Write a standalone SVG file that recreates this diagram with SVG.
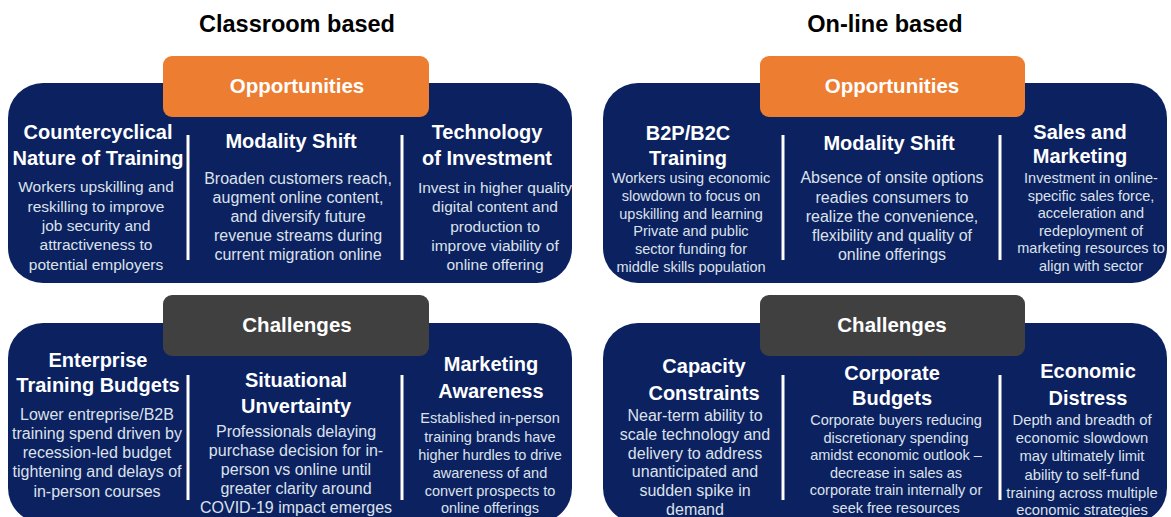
<svg xmlns="http://www.w3.org/2000/svg" width="1171" height="517" viewBox="0 0 1171 517">
<style>
.panel{fill:#0B2160}
.opp{fill:#ED7D31}
.chal{fill:#404040}
.div{stroke:#FFFFFF;stroke-width:3}
text{font-family:"Liberation Sans",Arial,sans-serif;text-anchor:middle}
.title{font-size:23.5px;font-weight:bold;fill:#000000}
.lbl{font-size:20.5px;font-weight:bold;fill:#FFFFFF}
.hd{font-size:20px;font-weight:bold;fill:#FFFFFF}
.b{fill:#DDE1EB}
.b16{font-size:16px}
.b155{font-size:15.5px}
.b145{font-size:14.5px}
.b148{font-size:14.8px}
</style>
<rect width="1171" height="517" fill="#FFFFFF"/>
<text class="title" x="297" y="32">Classroom based</text>
<text class="title" x="885" y="32">On-line based</text>

<g id="classroom-opportunities">
<rect class="panel" x="8" y="83" width="564" height="200" rx="35"/>
<rect class="opp" x="163" y="56" width="266" height="61" rx="9"/>
<text class="lbl" x="297" y="93">Opportunities</text>
</g>
<g id="classroom-challenges">
<rect class="panel" x="8" y="323" width="564" height="200" rx="35"/>
<rect class="chal" x="163" y="295" width="266" height="61" rx="9"/>
<text class="lbl" x="297" y="332">Challenges</text>
</g>
<g id="online-opportunities">
<rect class="panel" x="603" y="83" width="564" height="200" rx="35"/>
<rect class="opp" x="760" y="56" width="265" height="61" rx="9"/>
<text class="lbl" x="892" y="93">Opportunities</text>
</g>
<g id="online-challenges">
<rect class="panel" x="603" y="323" width="564" height="200" rx="35"/>
<rect class="chal" x="760" y="295" width="265" height="61" rx="9"/>
<text class="lbl" x="892" y="332">Challenges</text>
</g>

<g id="connectors">
<line class="div" x1="188" y1="135" x2="188" y2="260"/>
<line class="div" x1="402" y1="135" x2="402" y2="260"/>
<line class="div" x1="783" y1="135" x2="783" y2="260"/>
<line class="div" x1="1000" y1="135" x2="1000" y2="260"/>
<line class="div" x1="188" y1="375" x2="188" y2="500"/>
<line class="div" x1="402" y1="375" x2="402" y2="500"/>
<line class="div" x1="783" y1="375" x2="783" y2="500"/>
<line class="div" x1="1000" y1="375" x2="1000" y2="500"/>
</g>

<g id="countercyclical">
<text class="hd"><tspan x="98" y="139">Countercyclical</tspan><tspan x="98" y="165">Nature of Training</tspan></text>
<text class="b b155"><tspan x="96" y="192">Workers upskilling and</tspan><tspan x="96" y="211.5">reskilling to improve</tspan><tspan x="96" y="231">job security and</tspan><tspan x="96" y="250">attractiveness to</tspan><tspan x="96" y="269.5">potential employers</tspan></text>
</g>
<g id="modality-shift-classroom">
<text class="hd" x="291" y="148">Modality Shift</text>
<text class="b b16"><tspan x="298" y="184">Broaden customers reach,</tspan><tspan x="298" y="203">augment online content,</tspan><tspan x="298" y="222">and diversify future</tspan><tspan x="298" y="241">revenue streams during</tspan><tspan x="298" y="260">current migration online</tspan></text>
</g>
<g id="technology-of-investment">
<text class="hd"><tspan x="487" y="139">Technology</tspan><tspan x="487" y="165">of Investment</tspan></text>
<text class="b b155"><tspan x="495" y="193">Invest in higher quality</tspan><tspan x="495" y="212">digital content and</tspan><tspan x="495" y="232">production to</tspan><tspan x="495" y="251">improve viability of</tspan><tspan x="495" y="270">online offering</tspan></text>
</g>

<g id="b2p-b2c-training">
<text class="hd"><tspan x="688" y="140">B2P/B2C</tspan><tspan x="688" y="165">Training</tspan></text>
<text class="b b145"><tspan x="691" y="183">Workers using economic</tspan><tspan x="691" y="201">slowdown to focus on</tspan><tspan x="691" y="218.5">upskilling and learning</tspan><tspan x="691" y="236">Private and public</tspan><tspan x="691" y="254">sector funding for</tspan><tspan x="691" y="272">middle skills population</tspan></text>
</g>
<g id="modality-shift-online">
<text class="hd" x="889" y="150">Modality Shift</text>
<text class="b b16"><tspan x="892" y="183">Absence of onsite options</tspan><tspan x="892" y="202.5">readies consumers to</tspan><tspan x="892" y="222">realize the convenience,</tspan><tspan x="892" y="241">flexibility and quality of</tspan><tspan x="892" y="260">online offerings</tspan></text>
</g>
<g id="sales-and-marketing">
<text class="hd"><tspan x="1080" y="139">Sales and</tspan><tspan x="1080" y="163">Marketing</tspan></text>
<text class="b b145"><tspan x="1091" y="183">Investment in online-</tspan><tspan x="1091" y="200.6">specific sales force,</tspan><tspan x="1091" y="218.2">acceleration and</tspan><tspan x="1091" y="235.8">redeployment of</tspan><tspan x="1091" y="253.4">marketing resources to</tspan><tspan x="1091" y="271">align with sector</tspan></text>
</g>

<g id="enterprise-training-budgets">
<text class="hd"><tspan x="98" y="367">Enterprise</tspan><tspan x="98" y="392">Training Budgets</tspan></text>
<text class="b b16"><tspan x="97" y="420">Lower entreprise/B2B</tspan><tspan x="97" y="439">training spend driven by</tspan><tspan x="97" y="458">recession-led budget</tspan><tspan x="97" y="477">tightening and delays of</tspan><tspan x="97" y="497">in-person courses</tspan></text>
</g>
<g id="situational-uncertainty">
<text class="hd"><tspan x="296" y="387">Situational</tspan><tspan x="296" y="413">Unvertainty</tspan></text>
<text class="b b16"><tspan x="296" y="437">Professionals delaying</tspan><tspan x="296" y="456">purchase decision for in-</tspan><tspan x="296" y="475">person vs online until</tspan><tspan x="296" y="494">greater clarity around</tspan><tspan x="296" y="513">COVID-19 impact emerges</tspan></text>
</g>
<g id="marketing-awareness">
<text class="hd"><tspan x="491" y="371">Marketing</tspan><tspan x="491" y="398">Awareness</tspan></text>
<text class="b b145"><tspan x="490" y="423">Established in-person</tspan><tspan x="490" y="441.5">training brands have</tspan><tspan x="490" y="460">higher hurdles to drive</tspan><tspan x="490" y="478">awareness of and</tspan><tspan x="490" y="496">convert prospects to</tspan><tspan x="490" y="513">online offerings</tspan></text>
</g>

<g id="capacity-constraints">
<text class="hd"><tspan x="704" y="373">Capacity</tspan><tspan x="704" y="400">Constraints</tspan></text>
<text class="b b16"><tspan x="695" y="421">Near-term ability to</tspan><tspan x="695" y="439.8">scale technology and</tspan><tspan x="695" y="458.6">delivery to address</tspan><tspan x="695" y="477.4">unanticipated and</tspan><tspan x="695" y="496.2">sudden spike in</tspan><tspan x="695" y="515">demand</tspan></text>
</g>
<g id="corporate-budgets">
<text class="hd"><tspan x="892" y="380">Corporate</tspan><tspan x="892" y="405">Budgets</tspan></text>
<text class="b b145"><tspan x="896" y="425">Corporate buyers reducing</tspan><tspan x="896" y="442.6">discretionary spending</tspan><tspan x="896" y="460.2">amidst economic outlook –</tspan><tspan x="896" y="477.8">decrease in sales as</tspan><tspan x="896" y="495.4">corporate train internally or</tspan><tspan x="896" y="513">seek free resources</tspan></text>
</g>
<g id="economic-distress">
<text class="hd"><tspan x="1088" y="378">Economic</tspan><tspan x="1088" y="405">Distress</tspan></text>
<text class="b b148"><tspan x="1082" y="425">Depth and breadth of</tspan><tspan x="1082" y="443">economic slowdown</tspan><tspan x="1082" y="461">may ultimately limit</tspan><tspan x="1082" y="479.5">ability to self-fund</tspan><tspan x="1082" y="497.5">training across multiple</tspan><tspan x="1082" y="515">economic strategies</tspan></text>
</g>
</svg>
